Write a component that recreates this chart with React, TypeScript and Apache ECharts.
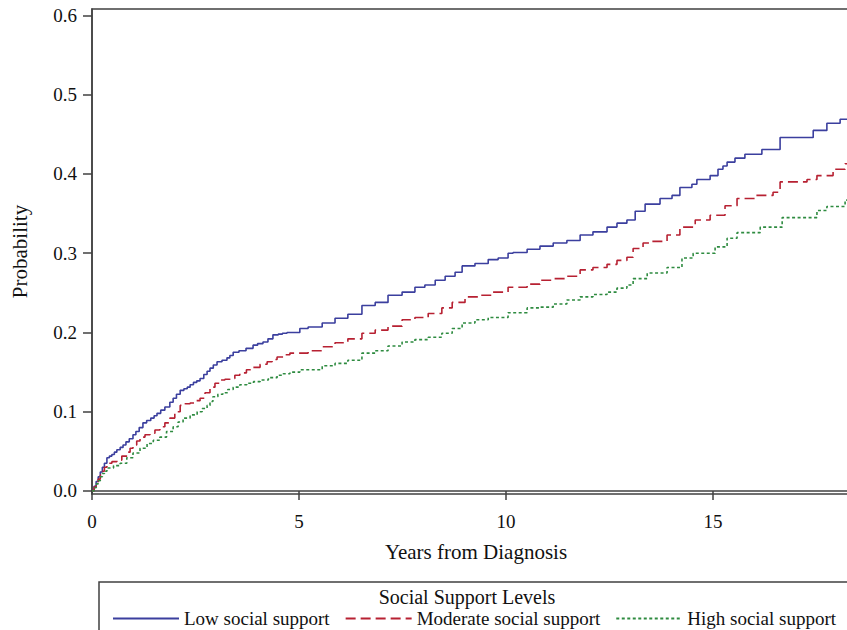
import React, { useEffect, useRef } from "react";
import * as echarts from "echarts";

const seriesNames = ["Low social support", "Moderate social support", "High social support"];
const legendTitle = "Social Support Levels";
const xTitle = "Years from Diagnosis";
const yTitle = "Probability";
const xTicks = [0, 5, 10, 15];
const yTicks = [0, 0.1, 0.2, 0.3, 0.4, 0.5, 0.6];

const lowT = [0, 0.05, 0.1, 0.15, 0.2, 0.25, 0.3, 0.36, 0.42, 0.48, 0.54, 0.6, 0.68, 0.75, 0.82, 0.9, 0.99, 1.06, 1.14, 1.23, 1.32, 1.42, 1.5, 1.57, 1.66, 1.76, 1.88, 1.96, 2.04, 2.13, 2.22, 2.3, 2.37, 2.45, 2.53, 2.61, 2.7, 2.78, 2.85, 2.93, 3.02, 3.14, 3.26, 3.33, 3.41, 3.55, 3.72, 3.89, 4.0, 4.13, 4.25, 4.37, 4.5, 4.6, 4.71,
  5.02, 5.22, 5.56, 5.87, 6.18, 6.52, 6.84, 7.15, 7.49, 7.80, 8.04, 8.29, 8.53, 8.77, 8.94, 9.25, 9.57, 9.81, 10.05, 10.17, 10.51, 10.82, 11.14, 11.47, 11.79, 12.10, 12.44, 12.68, 12.92, 13.12, 13.36, 13.72, 14.01, 14.20, 14.49, 14.61, 14.93, 15.12, 15.24, 15.34, 15.53, 15.77, 16.18, 16.62, 17.42, 17.75, 18.07, 18.30];
const lowP = [0, 0.006, 0.012, 0.018, 0.024, 0.03, 0.035, 0.042, 0.044, 0.046, 0.049, 0.052, 0.055, 0.058, 0.062, 0.066, 0.071, 0.075, 0.08, 0.086, 0.089, 0.092, 0.095, 0.098, 0.102, 0.106, 0.112, 0.117, 0.122, 0.127, 0.129, 0.131, 0.134, 0.137, 0.139, 0.142, 0.147, 0.151, 0.155, 0.159, 0.163, 0.165, 0.168, 0.171, 0.175, 0.177, 0.18, 0.184, 0.186, 0.188, 0.192, 0.197, 0.198, 0.199, 0.2,
  0.205, 0.207, 0.212, 0.218, 0.223, 0.234, 0.238, 0.247, 0.251, 0.257, 0.260, 0.266, 0.271, 0.276, 0.284, 0.287, 0.292, 0.294, 0.300, 0.301, 0.305, 0.309, 0.313, 0.316, 0.323, 0.327, 0.333, 0.338, 0.342, 0.353, 0.362, 0.369, 0.373, 0.383, 0.387, 0.393, 0.398, 0.406, 0.410, 0.415, 0.420, 0.425, 0.431, 0.446, 0.455, 0.464, 0.469, 0.470];

const modT = [0, 0.05, 0.1, 0.15, 0.2, 0.25, 0.3, 0.36, 0.48, 0.6, 0.72, 0.85, 0.92, 0.99, 1.08, 1.16, 1.28, 1.4, 1.52, 1.64, 1.76, 1.88, 2.0, 2.13, 2.25, 2.37, 2.49, 2.61, 2.73, 2.85, 2.97, 3.09, 3.21, 3.33, 3.45, 3.57, 3.73, 3.89, 4.06, 4.23, 4.35, 4.47, 4.62, 4.78,
  5.22, 5.56, 5.87, 6.18, 6.52, 6.84, 7.15, 7.49, 7.80, 8.12, 8.45, 8.70, 9.01, 9.32, 9.66, 10.05, 10.51, 10.82, 11.14, 11.47, 11.79, 12.10, 12.44, 12.68, 12.92, 13.07, 13.31, 13.48, 13.89, 14.20, 14.57, 14.93, 15.29, 15.58, 16.01, 16.45, 16.62, 17.27, 17.51, 17.90, 18.19, 18.30];
const modP = [0, 0.005, 0.01, 0.015, 0.02, 0.025, 0.03, 0.035, 0.037, 0.039, 0.044, 0.049, 0.054, 0.058, 0.063, 0.068, 0.071, 0.073, 0.077, 0.081, 0.086, 0.092, 0.1, 0.108, 0.11, 0.111, 0.114, 0.117, 0.124, 0.131, 0.136, 0.14, 0.141, 0.142, 0.146, 0.149, 0.153, 0.156, 0.16, 0.163, 0.166, 0.169, 0.172, 0.174,
  0.177, 0.182, 0.187, 0.192, 0.199, 0.203, 0.208, 0.216, 0.219, 0.224, 0.231, 0.238, 0.245, 0.247, 0.251, 0.257, 0.261, 0.266, 0.268, 0.271, 0.279, 0.282, 0.286, 0.291, 0.295, 0.306, 0.313, 0.315, 0.323, 0.333, 0.342, 0.348, 0.360, 0.369, 0.373, 0.377, 0.390, 0.393, 0.398, 0.406, 0.413, 0.413];

const highT = [0, 0.05, 0.1, 0.15, 0.2, 0.25, 0.3, 0.36, 0.52, 0.68, 0.84, 0.99, 1.16, 1.33, 1.48, 1.64, 1.8, 1.96, 2.08, 2.2, 2.37, 2.54, 2.66, 2.78, 2.85, 2.92, 3.04, 3.16, 3.28, 3.41, 3.57, 3.74, 3.9, 4.06, 4.26, 4.47, 4.62, 4.78,
  5.02, 5.56, 5.87, 6.18, 6.52, 6.84, 7.15, 7.49, 7.80, 8.12, 8.45, 8.70, 8.94, 9.25, 9.57, 10.05, 10.51, 10.82, 11.14, 11.47, 11.79, 12.10, 12.44, 12.68, 12.92, 13.07, 13.41, 13.89, 14.25, 14.52, 15.05, 15.34, 15.58, 16.14, 16.67, 17.51, 17.75, 18.19, 18.30];
const highP = [0, 0.004, 0.009, 0.013, 0.018, 0.022, 0.025, 0.029, 0.032, 0.035, 0.042, 0.048, 0.054, 0.06, 0.064, 0.068, 0.075, 0.081, 0.087, 0.092, 0.096, 0.1, 0.104, 0.108, 0.113, 0.119, 0.122, 0.124, 0.128, 0.131, 0.134, 0.136, 0.138, 0.14, 0.143, 0.146, 0.148, 0.15,
  0.153, 0.158, 0.161, 0.165, 0.174, 0.177, 0.183, 0.188, 0.191, 0.194, 0.199, 0.205, 0.212, 0.216, 0.219, 0.225, 0.231, 0.232, 0.236, 0.241, 0.245, 0.248, 0.251, 0.256, 0.260, 0.268, 0.275, 0.282, 0.294, 0.300, 0.308, 0.319, 0.326, 0.333, 0.345, 0.354, 0.359, 0.367, 0.367];

const FONT = '"Liberation Serif", "Times New Roman", serif';
const AXIS_COLOR = "#404040";

const zip = (t: number[], p: number[]) => t.map((v, i) => [v, p[i]]);

export default function App() {
  const ref = useRef<HTMLDivElement>(null);
  useEffect(() => {
    if (!ref.current) return;
    const chart = echarts.init(ref.current, null, { renderer: "svg" });
    const colors = ["#3b3f9e", "#b72132", "#2e8b40"];
    const dashes: any[] = ["solid", [10, 5], [3, 2.5]];
    const datasets = [zip(lowT, lowP), zip(modT, modP), zip(highT, highP)];
    chart.setOption({
      animation: false,
      backgroundColor: "#ffffff",
      textStyle: { fontFamily: FONT },
      grid: {
        left: 92,
        top: 9,
        width: 768,
        height: 485,
        show: true,
        borderColor: AXIS_COLOR,
        borderWidth: 1.5,
        backgroundColor: "transparent",
      },
      xAxis: {
        type: "value",
        min: 0,
        max: 18.55,
        name: xTitle,
        nameLocation: "middle",
        nameGap: 47,
        nameTextStyle: { fontFamily: FONT, fontSize: 21, color: "#111" },
        axisLine: { show: true, lineStyle: { color: AXIS_COLOR, width: 1.5 } },
        axisTick: { show: true, length: 9, lineStyle: { color: AXIS_COLOR, width: 1.5 }, customValues: xTicks },
        axisLabel: { fontFamily: FONT, fontSize: 19, color: "#111", margin: 18, customValues: xTicks, formatter: (v: number) => String(v) },
        splitLine: { show: false },
      },
      yAxis: {
        type: "value",
        min: -0.0038,
        max: 0.6082,
        name: yTitle,
        nameLocation: "middle",
        nameGap: 62,
        nameTextStyle: { fontFamily: FONT, fontSize: 21, color: "#111" },
        axisLine: { show: true, lineStyle: { color: AXIS_COLOR, width: 1.5 } },
        axisTick: { show: true, length: 9, lineStyle: { color: AXIS_COLOR, width: 1.5 }, customValues: yTicks },
        axisLabel: { fontFamily: FONT, fontSize: 19, color: "#111", margin: 15, customValues: yTicks, formatter: (v: number) => v.toFixed(1) },
        splitLine: { show: false },
      },
      legend: {
        left: 107,
        top: 604,
        orient: "horizontal",
        itemWidth: 66,
        itemHeight: 14,
        itemGap: 15,
        itemStyle: { opacity: 0 },
        textStyle: { fontFamily: FONT, fontSize: 19, color: "#111" },
        data: seriesNames,
      },
      graphic: [
        {
          type: "rect",
          shape: { x: 99, y: 582, width: 800, height: 100 },
          style: { fill: "none", stroke: AXIS_COLOR, lineWidth: 1.5 },
          silent: true,
        },
        {
          type: "text",
          x: 467,
          y: 597,
          style: {
            text: legendTitle,
            fontFamily: FONT,
            fontSize: 20,
            fill: "#111",
            textAlign: "center",
            textVerticalAlign: "middle",
          },
        },
      ],
      series: seriesNames.map((name, i) => ({
        name,
        type: "line",
        step: "end",
        symbol: "none",
        data: datasets[i],
        lineStyle: { color: colors[i], width: 1.6, type: dashes[i] },
        itemStyle: { color: colors[i] },
      })),
    });
    return () => chart.dispose();
  }, []);
  return (
    <div style={{ position: "fixed", left: 0, top: 0, width: 847, height: 630, overflow: "hidden", background: "#fff" }}>
      <div ref={ref} style={{ width: 880, height: 630 }} />
    </div>
  );
}
